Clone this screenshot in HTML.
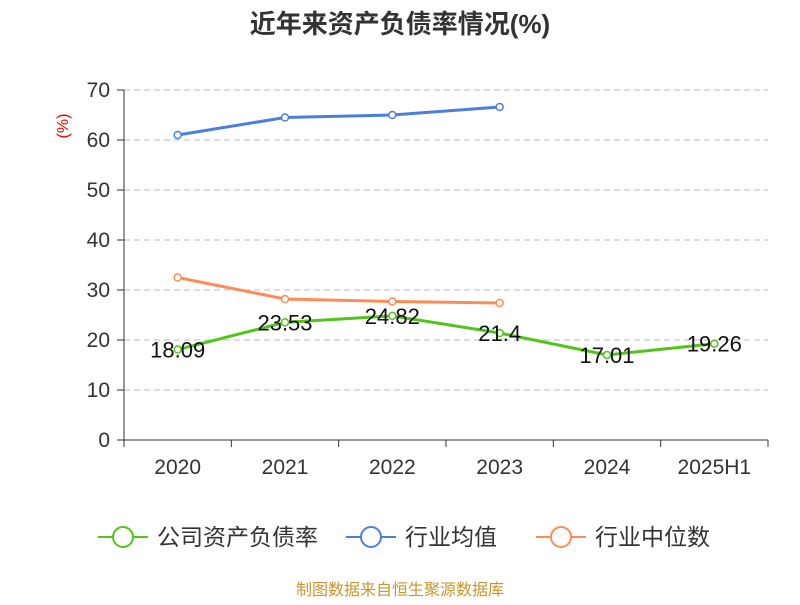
<!DOCTYPE html>
<html><head><meta charset="utf-8"><style>
body{margin:0;background:#fff;font-family:"Liberation Sans","Noto Sans CJK SC",sans-serif;}
</style></head><body>
<svg id="c" width="800" height="600" xmlns="http://www.w3.org/2000/svg" font-family="Liberation Sans, Noto Sans CJK SC, sans-serif"></svg>
<script>
const categories=["2020","2021","2022","2023","2024","2025H1"];
const companyVals=[18.09,23.53,24.82,21.4,17.01,19.26];
const companyLabels=["18.09","23.53","24.82","21.4","17.01","19.26"];
const avgVals=[61,64.5,65,66.6];
const medianVals=[32.5,28.2,27.7,27.4];
const yTicks=[0,10,20,30,40,50,60,70];
const svg=document.getElementById('c');
const NS='http://www.w3.org/2000/svg';
const x0=124,x1=768,yBase=440,yTop=90,yMax=70;
const band=(x1-x0)/categories.length;
const X=i=>x0+band*(i+0.5);
const Y=v=>yBase-(v/yMax)*(yBase-yTop);
function el(t,a,p){const e=document.createElementNS(NS,t);for(const k in a)e.setAttribute(k,a[k]);(p||svg).appendChild(e);return e;}
let t=el('text',{x:400,y:33,'text-anchor':'middle','font-size':26,'font-weight':'bold',fill:'#333'});t.textContent='近年来资产负债率情况(%)';


t=el('text',{x:68,y:126,'text-anchor':'middle','font-size':16,fill:'#e00',transform:'rotate(-90 68 126)'});t.textContent='(%)';


yTicks.forEach(v=>{
 const y=Y(v);
 if(v>0){const g=el('line',{x1:x0,x2:x1,y1:y,y2:y,stroke:'#bbb','stroke-dasharray':'6,4'});
 
 }
 el('line',{x1:x0-7,x2:x0,y1:y,y2:y,stroke:'#333'});
 const l=el('text',{x:x0-14,y:y+7,'text-anchor':'end','font-size':21,fill:'#333'});l.textContent=v;
 
 
});
el('line',{x1:x0,x2:x0,y1:yTop,y2:yBase,stroke:'#333'});
el('line',{x1:x0,x2:x1,y1:yBase,y2:yBase,stroke:'#333'});
for(let i=0;i<=categories.length;i++)el('line',{x1:x0+band*i,x2:x0+band*i,y1:yBase,y2:yBase+7,stroke:'#333'});
categories.forEach((c,i)=>{const l=el('text',{x:X(i),y:474,'text-anchor':'middle','font-size':21,fill:'#333'});l.textContent=c;

});
function series(vals,color,name){
 const p=el('polyline',{points:vals.map((v,i)=>X(i)+','+Y(v)).join(' '),fill:'none',stroke:color,'stroke-width':3});
 
 
 vals.forEach((v,i)=>{const c=el('circle',{cx:X(i),cy:Y(v),r:3.5,fill:'#fff',stroke:color,'stroke-width':1.5});
 
 });
}
series(avgVals,'#4a7fe0','industry-average');
series(medianVals,'#ff8c55','industry-median');
series(companyVals,'#52c41a','company-ratio');
companyVals.forEach((v,i)=>{const l=el('text',{x:X(i),y:Y(v)+8,'text-anchor':'middle','font-size':22,fill:'#111'});l.textContent=companyLabels[i];

});
const leg=[['公司资产负债率','#52c41a',98],['行业均值','#4a7fe0',346],['行业中位数','#ff8c55',536]];
leg.forEach(([n,c,x])=>{
 const g=el('g',{});
 
 
 el('line',{x1:x,x2:x+50,y1:537,y2:537,stroke:c,'stroke-width':2},g);
 el('circle',{cx:x+25,cy:537,r:10,fill:'#fff',stroke:c,'stroke-width':2},g);
 const l=el('text',{x:x+59,y:545,'font-size':23,fill:'#333'},g);l.textContent=n;
});
t=el('text',{x:400,y:595,'text-anchor':'middle','font-size':16,fill:'#c8962e'});t.textContent='制图数据来自恒生聚源数据库';


</script>
</body></html>
